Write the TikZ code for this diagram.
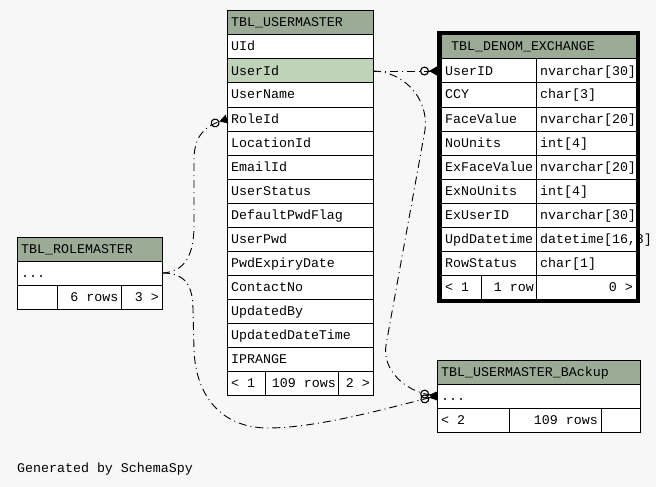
\documentclass[tikz,border=0pt]{standalone}
\usepackage{fontspec}
\newfontfamily\monofnt{Liberation Mono}
\usetikzlibrary{arrows.meta}
\definecolor{bggray}{HTML}{F7F7F7}
\definecolor{hdrgreen}{HTML}{9BAB96}
\definecolor{selgreen}{HTML}{BFD3B8}

\begin{document}
\begin{tikzpicture}[x=1pt,y=-1pt,
  cell/.style={draw=black,line width=1pt,fill=white,minimum height=24pt,
    inner sep=0pt,outer sep=0pt,anchor=north west},
  hdr/.style={cell,fill=hdrgreen},
  lbl/.style={anchor=base west,inner sep=0pt,
    font=\monofnt\fontsize{13.3}{16}\selectfont},
  rlbl/.style={lbl,anchor=base east},
  rel/.style={line width=0.9pt,dash pattern=on 8pt off 4pt on 1pt off 4pt,
    -{Circle[open,length=9pt,width=9pt,line width=1.1pt]
      Triangle[reversed,length=8pt,width=9pt]}}
]
% canvas
\fill[bggray] (0,0) rectangle (656,487);
\useasboundingbox (0,0) rectangle (656,487);

% ---------- TBL_USERMASTER ----------
\node[hdr,minimum width=146pt] (umhd) at (227,11) {};
\node[lbl] at (231,27) {TBL\_USERMASTER};
\foreach \t/\f [count=\i] in {UId/white,UserId/selgreen,UserName/white,
    RoleId/white,LocationId/white,EmailId/white,UserStatus/white,
    DefaultPwdFlag/white,UserPwd/white,PwdExpiryDate/white,ContactNo/white,
    UpdatedBy/white,UpdatedDateTime/white,IPRANGE/white}{
  \node[cell,fill=\f,minimum width=146pt] (um\i) at (227,11+24*\i) {};
  \node[lbl] at (231,27+24*\i) {\t};
}
\node[cell,minimum width=38pt]   (umf1) at (227,371) {};
\node[cell,minimum width=73.5pt] (umf2) at (265,371) {};
\node[cell,minimum width=34.5pt] (umf3) at (338.5,371) {};
\node[lbl]  at (231,387) {< 1};
\node[rlbl] at (336,387) {109 rows};
\node[rlbl] at (370,387) {2 >};

% ---------- TBL_DENOM_EXCHANGE ----------
\node[hdr,minimum width=195pt] (dxhd) at (441,35) {};
\node[lbl] at (451,51) {TBL\_DENOM\_EXCHANGE};
\foreach \a/\b [count=\i] in {UserID/nvarchar[30],CCY/char[3],
    FaceValue/nvarchar[20],NoUnits/int[4],ExFaceValue/nvarchar[20],
    ExNoUnits/int[4],ExUserID/nvarchar[30],UpdDatetime/{datetime[16,8]},
    RowStatus/char[1]}{
  \node[cell,minimum width=95pt]  (dxa\i) at (441,35+24*\i) {};
  \node[cell,minimum width=100pt] (dxb\i) at (536,35+24*\i) {};
  \node[lbl] at (445,51+24*\i) {\a};
  \node[lbl] at (540,51+24*\i) {\b};
}
\node[cell,minimum width=40pt]  (dxf1) at (441,275) {};
\node[cell,minimum width=55pt]  (dxf2) at (481,275) {};
\node[cell,minimum width=100pt] (dxf3) at (536,275) {};
\node[lbl]  at (445,291) {< 1};
\node[rlbl] at (534,291) {1 row};
\node[rlbl] at (633,291) {0 >};

% ---------- TBL_ROLEMASTER ----------
\node[hdr,minimum width=145pt] (rmhd) at (17,237) {};
\node[lbl] at (21,253) {TBL\_ROLEMASTER};
\node[cell,minimum width=145pt] (rm1) at (17,261) {};
\node[lbl] at (21,277) {...};
\node[cell,minimum width=40pt]   (rmf1) at (17,285) {};
\node[cell,minimum width=64.5pt] (rmf2) at (57,285) {};
\node[cell,minimum width=40.5pt] (rmf3) at (121.5,285) {};
\node[rlbl] at (118.5,301) {6 rows};
\node[rlbl] at (159,301) {3 >};

% ---------- TBL_USERMASTER_BAckup ----------
\node[hdr,minimum width=203pt] (bkhd) at (437,360) {};
\node[lbl] at (441,376) {TBL\_USERMASTER\_BAckup};
\node[cell,minimum width=203pt] (bk1) at (437,384) {};
\node[lbl] at (441,400) {...};
\node[cell,minimum width=72pt] (bkf1) at (437,408) {};
\node[cell,minimum width=92pt] (bkf2) at (509,408) {};
\node[cell,minimum width=39pt] (bkf3) at (601,408) {};
\node[lbl]  at (441,424) {< 2};
\node[rlbl] at (598,424) {109 rows};

% ---------- relationships ----------
\draw[rel] (um2.east) -- ([xshift=-4pt]dxa1.west);
\draw[rel] (um2.east) .. controls (400,71) and (429,95) .. (425,130)
  -- (386,345) .. controls (382,370) and (405,391) .. (bk1.west);
\draw[rel] (rm1.east) .. controls (185,272) and (194,255) .. (194,225)
  -- (194,160) .. controls (194,138) and (203,127) .. (um4.west);
\draw[rel] (rm1.east) .. controls (185,273) and (193,285) .. (193,310)
  -- (194,350) .. controls (196,400) and (225,428) .. (268,428)
  .. controls (320,428) and (395,406) .. (bk1.west);

% heavy frame of the selected table
\draw[line width=4pt] ([shift={(-2,-2)}]dxhd.north west)
  rectangle ([shift={(1.5,2)}]dxf3.south east);

\node[lbl] (gen) at (17,472) {Generated by SchemaSpy};
\end{tikzpicture}
\end{document}
